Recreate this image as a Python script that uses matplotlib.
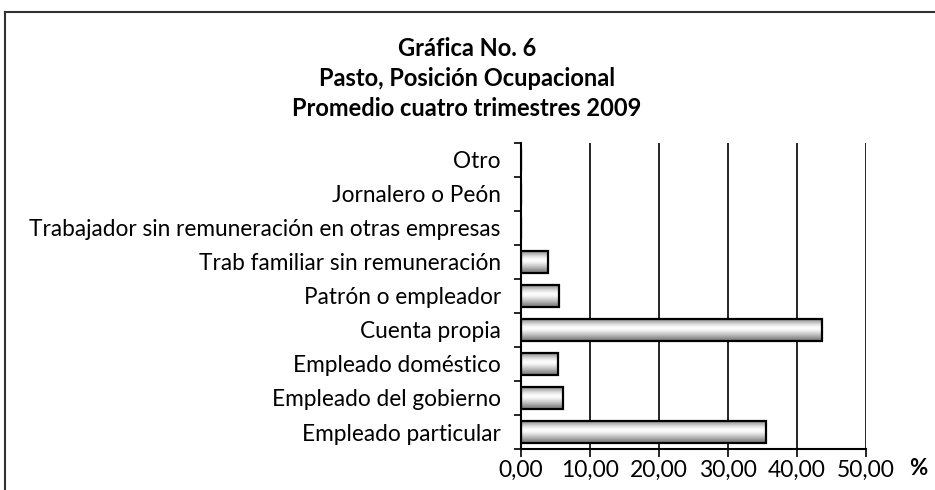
import matplotlib
matplotlib.use("Agg")
import matplotlib.pyplot as plt
import numpy as np
from matplotlib.lines import Line2D

categories = ["Empleado particular", "Empleado del gobierno", "Empleado doméstico",
              "Cuenta propia", "Patrón o empleador", "Trab familiar sin remuneración",
              "Trabajador sin remuneración en otras empresas", "Jornalero o Peón", "Otro"]
values = [35.5, 6.1, 5.3, 43.6, 5.5, 3.9, 0.0, 0.0, 0.0]
xticks = [0, 10, 20, 30, 40, 50]
xticklabels = ["0,00", "10,00", "20,00", "30,00", "40,00", "50,00"]
title_lines = ["Gráfica No. 6", "Pasto, Posición Ocupacional", "Promedio cuatro trimestres 2009"]

plt.rcParams['font.family'] = ['Lato', 'DejaVu Sans']

W, H = 935, 490
fig = plt.figure(figsize=(W/100, H/100), dpi=100)
ax = fig.add_axes([521/W, 1-449/H, (866-521)/W, (449-143)/H])

y = np.arange(len(categories))
bars = ax.barh(y, values, height=0.65, color='none', edgecolor='black', linewidth=1.6, zorder=3)

# gradient fill
grad = np.array([0.55, 0.62, 0.72, 0.82, 0.9, 0.96, 0.99, 0.97, 0.92, 0.85, 0.78, 0.7, 0.62, 0.55, 0.5])
img = grad.reshape(-1, 1)
for b in bars:
    w = b.get_width()
    if w <= 0:
        continue
    x0, y0, h = b.get_x(), b.get_y(), b.get_height()
    im = ax.imshow(img, cmap='gray', vmin=0, vmax=1, aspect='auto',
                   extent=[x0, x0 + w, y0, y0 + h], origin='upper', zorder=2,
                   interpolation='bilinear')
    im.set_clip_path(b)

ax.set_xlim(0, 50)
ax.set_ylim(-0.5, len(categories) - 0.5)
ax.set_xticks(xticks)
ax.set_xticklabels(xticklabels, fontsize=16.5)
ax.set_yticks(y)
ax.set_yticklabels(categories, fontsize=16.3)
ax.set_yticks(np.arange(-0.5, len(categories)), minor=True)
ax.tick_params(axis='y', which='major', length=0, pad=14.5)
ax.tick_params(axis='y', which='minor', length=5, width=1.2, direction='out')
ax.tick_params(axis='x', length=6, width=1.2, pad=2)
ax.xaxis.grid(True, color='black', linewidth=1.2, zorder=1)
ax.set_axisbelow(True)
for s in ['top', 'right']:
    ax.spines[s].set_visible(False)
for s in ['left', 'bottom']:
    ax.spines[s].set_linewidth(1.5)

ax.text(1.0 + 52/(866-521), -19/(449-143), "%", transform=ax.transAxes, fontsize=16,
        fontweight='bold', ha='center', va='center')

ypos = [49, 78, 108]
for t, yy in zip(title_lines, ypos):
    fig.text(467/W, 1 - yy/H, t, ha='center', va='center', fontsize=17, fontweight='bold')

# frame
fig.add_artist(Line2D([5/W, 5/W], [0, 1 - 12/H], color='#333333', linewidth=1.5))
fig.add_artist(Line2D([5/W, 1], [1 - 12/H, 1 - 12/H], color='#333333', linewidth=1.5))

fig.savefig("out.png", dpi=100)
